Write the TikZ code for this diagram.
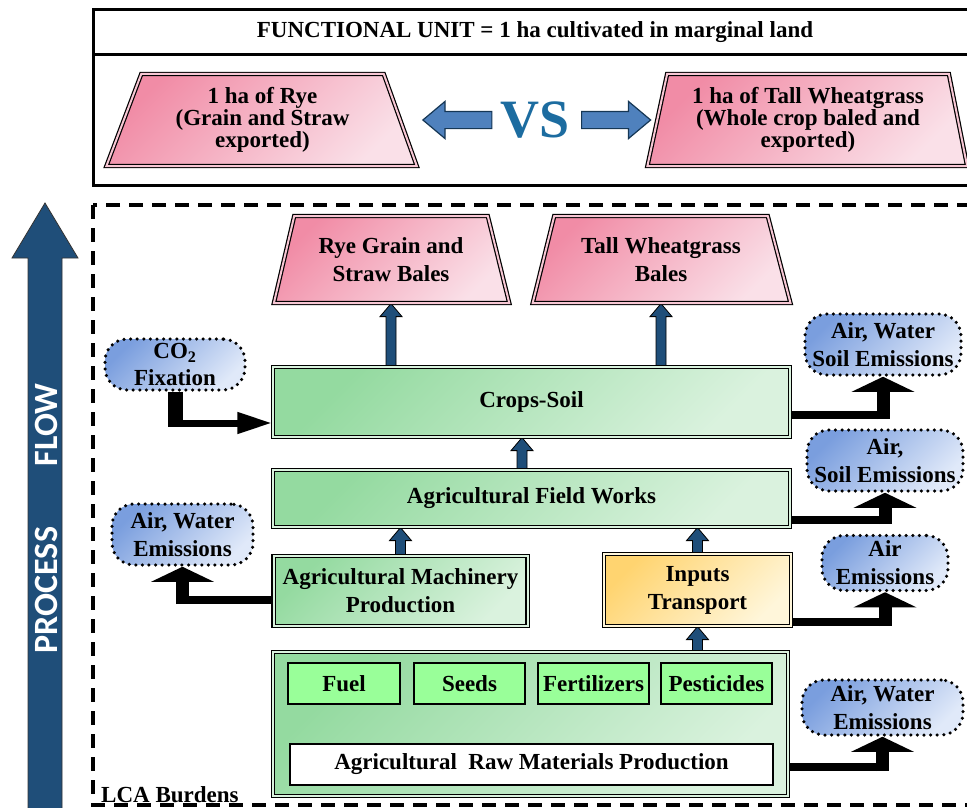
\documentclass[tikz,border=0pt]{standalone}
\usepackage{fontspec}
\setmainfont{Liberation Serif}
\newfontfamily\flowfont{Carlito}
\usetikzlibrary{shapes.geometric,shapes.arrows,arrows.meta,calc}
\pgfdeclarelayer{bg}
\pgfsetlayers{bg,main}
\definecolor{gdark}{RGB}{148,218,160}
\definecolor{glight}{RGB}{218,242,222}
\definecolor{pdark}{RGB}{241,140,166}
\definecolor{plight}{RGB}{250,224,232}
\definecolor{bdark}{RGB}{122,158,222}
\definecolor{blight}{RGB}{224,233,249}
\definecolor{ydark}{RGB}{255,212,112}
\definecolor{ylight}{RGB}{255,246,218}
\definecolor{itemgreen}{RGB}{153,255,153}
\definecolor{navy}{RGB}{31,78,121}
\definecolor{vsblue}{RGB}{28,108,160}
\definecolor{midblue}{RGB}{79,129,189}
\begin{document}
\begin{tikzpicture}[x=1pt,y=-1pt,
  txt/.style={font=\bfseries\fontsize{23}{28}\selectfont, align=center, text=black, inner sep=0pt},
  dbl/.style={draw=black, line width=1.2pt, double distance=2pt},
  greenbox/.style={rectangle, dbl, double=glight, top color=gdark, bottom color=glight, shading angle=45, txt},
  yellowbox/.style={rectangle, dbl, double=ylight, top color=ydark, bottom color=ylight, shading angle=45, txt},
  trap/.style={trapezium, trapezium stretches=true, dbl, double=plight!70!pdark, top color=pdark, bottom color=plight, shading angle=45, txt},
  emis/.style={rectangle, rounded corners=22pt, draw=black, line width=3.5pt, dash pattern=on 0pt off 6.6pt, line cap=round, top color=bdark, bottom color=blight, shading angle=45, txt},
  item/.style={rectangle, draw=black, line width=1.2pt, fill=itemgreen, txt},
  whitebox/.style={rectangle, draw=black, line width=1.2pt, fill=white, txt},
  upblock/.style={draw=black, line width=0.8pt, fill=navy, to path={let \p1=(\tikztostart), \p2=(\tikztotarget) in (\x1-5pt,\y1) -- (\x1-5pt,\y2-13pt) -- (\x1-11pt,\y2-13pt) -- (\x1,\y2) -- (\x1+11pt,\y2-13pt) -- (\x1+5pt,\y2-13pt) -- (\x1+5pt,\y1) -- cycle}},
  fat/.style={draw=black, line width=8pt, -{Triangle[width=62pt,length=15pt]}},
  fatv/.style={draw=black, line width=13pt},
  fatco/.style={draw=black, line width=7pt, -{Triangle[width=20pt,length=35pt]}},
  vsarrow/.style={single arrow, draw=navy!70!black, line width=1.2pt, fill=midblue, minimum height=69pt, inner xsep=0pt, inner ysep=8pt, single arrow head extend=10pt, single arrow tip angle=80},
  flowtxt/.style={rotate=90, text=white, font=\flowfont\bfseries\fontsize{34}{34}\selectfont, inner sep=0pt},
]
\useasboundingbox (0,0) rectangle (967,808);
\clip (0,0) rectangle (967,808);

% functional unit box
\draw[line width=3pt] (93,10) rectangle (985,185);
\draw[line width=3pt] (93,55) -- (985,55);
\node[txt] (fu) at (535,32) {FUNCTIONAL UNIT = 1 ha cultivated in marginal land};

\node[trap, minimum width=311pt, minimum height=92pt, trapezium left angle=69, trapezium right angle=70,
  font=\bfseries\fontsize{23}{22}\selectfont] (h1) at (262.5,120) {1 ha of Rye\\(Grain and Straw\\exported)};
\node[trap, minimum width=320pt, minimum height=92pt, trapezium left angle=76, trapezium right angle=77,
  font=\bfseries\fontsize{23}{22}\selectfont] (h2) at (808,120) {1 ha of Tall Wheatgrass\\(Whole crop baled and\\exported)};
\node[txt, text=vsblue, font=\bfseries\fontsize{54}{54}\selectfont] (vs) at (535,120) {VS};
\node[vsarrow, shape border rotate=180] (la) at (462.5,120) {};
\node[vsarrow] (ra) at (611,120) {};

% system boundary
\draw[line width=3.5pt, dash pattern=on 14pt off 9pt] (93,205) rectangle (990,805);
\node[txt, anchor=west] (lca) at (101,795) {LCA Burdens};

% process flow arrow
\draw[fill=navy, draw=black!80, line width=0.8pt] (45,203) -- (78,258) -- (62,258) -- (62,815) -- (28,815) -- (28,258) -- (12,258) -- cycle;
\node[flowtxt] (flow) at (46,425) {FLOW};
\node[flowtxt] (proc) at (46,590) {PROCESS};

% products
\node[trap, minimum width=236pt, minimum height=87pt, trapezium left angle=71, trapezium right angle=70] (rye) at (391,259.5) {Rye Grain and\\Straw Bales};
\node[trap, minimum width=258pt, minimum height=87pt, trapezium left angle=70, trapezium right angle=69] (tw) at (661,259.5) {Tall Wheatgrass\\Bales};

% processes
\node[greenbox, minimum width=517pt, minimum height=70pt] (cs) at (531.5,402) {Crops-Soil};
\node[greenbox, minimum width=517pt, minimum height=57pt] (fw) at (531.5,498.5) {Agricultural Field Works};
\node[greenbox, minimum width=254pt, minimum height=70pt] (mach) at (400.5,591) {Agricultural Machinery\\Production};
\node[yellowbox, minimum width=187pt, minimum height=72pt] (inp) at (697.5,590) {Inputs\\Transport};
\node[greenbox, minimum width=515pt, minimum height=144pt] (grp) at (530.5,724) {};
\node[item, minimum width=112pt, minimum height=41pt] (fuel) at (344,683.5) {Fuel};
\node[item, minimum width=111pt, minimum height=41pt] (seeds) at (469.5,683.5) {Seeds};
\node[item, minimum width=111pt, minimum height=41pt] (fert) at (593.5,683.5) {Fertilizers};
\node[item, minimum width=111pt, minimum height=41pt] (pest) at (716.5,683.5) {Pesticides};
\node[whitebox, minimum width=483pt, minimum height=41pt] (raw) at (531.5,764.5) {Agricultural\ \ Raw Materials Production};

% emissions
\node[emis, minimum width=140pt, minimum height=51pt] (co2) at (175,364.5) {CO\textsubscript{2}\\[-1pt]Fixation};
\node[emis, minimum width=156pt, minimum height=61pt] (e1) at (883,344.5) {Air, Water\\Soil Emissions};
\node[emis, minimum width=156pt, minimum height=61pt] (e2) at (885,460.5) {Air,\\Soil Emissions};
\node[emis, minimum width=126pt, minimum height=55pt] (e3) at (885,563) {Air\\Emissions};
\node[emis, minimum width=161pt, minimum height=55pt] (e4) at (882.5,707.5) {Air, Water\\Emissions};
\node[emis, minimum width=141pt, minimum height=61pt] (e5) at (182.5,534.5) {Air, Water\\Emissions};

\coordinate (c0) at ($(cs.west)+(0,21)$);
\coordinate (c1) at ($(cs.east)+(0,13)$);
\coordinate (c2) at ($(fw.east)+(0,21.5)$);
\coordinate (c3) at ($(inp.east)+(0,32)$);
\coordinate (c4) at ($(grp.east)+(0,43)$);
\coordinate (c5) at ($(mach.west)+(0,9)$);

\begin{pgfonlayer}{bg}
% flow arrows
\draw[upblock] (rye.south |- cs.north) to (rye.south);
\draw[upblock] (tw.south |- cs.north) to (tw.south);
\draw[upblock] ([xshift=-9.5pt]fw.north) to ([xshift=-9.5pt]cs.south);
\draw[upblock] (mach.north) to (mach.north |- fw.south);
\draw[upblock] (inp.north) to (inp.north |- fw.south);
\draw[upblock] (inp.south |- grp.north) to (inp.south);
\draw[upblock] (fuel.south |- raw.north) to (fuel.south);
\draw[upblock] (seeds.south |- raw.north) to (seeds.south);
\draw[upblock] (fert.south |- raw.north) to (fert.south);
\draw[upblock] (pest.south |- raw.north) to (pest.south);
% emission connectors
\draw[fatco] (co2.south) |- (c0);
\draw[fatv, line width=15pt] (co2.south) -- ($(co2.south |- c0)+(0,3.5)$);
\draw[fat] (c1) -| (e1.south);
\draw[fatv] ($(c1 -| e1.south)+(0,4)$) -- ($(e1.south)+(0,14)$);
\draw[fat] (c2) -| (e2.south);
\draw[fatv] ($(c2 -| e2.south)+(0,4)$) -- ($(e2.south)+(0,14)$);
\draw[fat] (c3) -| (e3.south);
\draw[fatv] ($(c3 -| e3.south)+(0,4)$) -- ($(e3.south)+(0,14)$);
\draw[fat] (c4) -| (e4.south);
\draw[fatv] ($(c4 -| e4.south)+(0,4)$) -- ($(e4.south)+(0,14)$);
\draw[fat] (c5) -| (e5.south);
\draw[fatv] ($(c5 -| e5.south)+(0,4)$) -- ($(e5.south)+(0,14)$);
\end{pgfonlayer}
\end{tikzpicture}
\end{document}
